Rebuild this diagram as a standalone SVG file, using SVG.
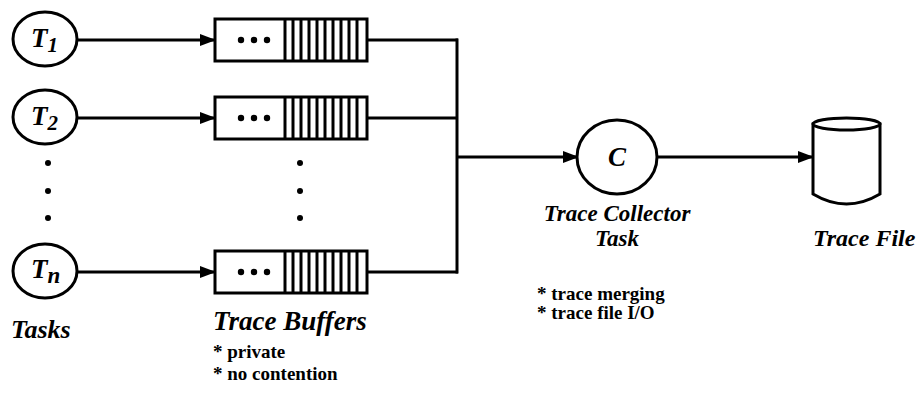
<svg xmlns="http://www.w3.org/2000/svg" width="923" height="409" viewBox="0 0 923 409">
<style>
.s{fill:#fff;stroke:#000;stroke-width:3}
.c{fill:none;stroke:#000;stroke-width:3}
.st{stroke:#000;stroke-width:3}
.lab{font-family:"Liberation Serif","Times New Roman","DejaVu Serif",serif;font-weight:bold;font-style:italic;font-size:26px;fill:#000}
.t{font-family:"Liberation Serif","Times New Roman","DejaVu Serif",serif;font-weight:bold;font-style:italic;font-size:27px;fill:#000}
.note{font-family:"Liberation Serif","Times New Roman","DejaVu Serif",serif;font-weight:bold;font-size:19px;fill:#000}
.dot{fill:#000}
</style>
<defs>
<marker id="ah" markerUnits="userSpaceOnUse" markerWidth="16" markerHeight="12" refX="15" refY="6" orient="auto">
<path d="M0,0 L16,6 L0,12 z" fill="#000"/>
</marker>
<g id="buf">
<rect class="s" x="0" y="-21" width="152" height="42"/>
<line class="st" x1="70" y1="-21" x2="70" y2="21"/>
<line class="st" x1="78" y1="-21" x2="78" y2="21"/>
<line class="st" x1="86" y1="-21" x2="86" y2="21"/>
<line class="st" x1="94" y1="-21" x2="94" y2="21"/>
<line class="st" x1="102" y1="-21" x2="102" y2="21"/>
<line class="st" x1="110" y1="-21" x2="110" y2="21"/>
<line class="st" x1="118" y1="-21" x2="118" y2="21"/>
<line class="st" x1="126" y1="-21" x2="126" y2="21"/>
<line class="st" x1="134" y1="-21" x2="134" y2="21"/>
<line class="st" x1="142" y1="-21" x2="142" y2="21"/>
<circle class="dot" cx="26" cy="0" r="3.2"/>
<circle class="dot" cx="39" cy="0" r="3.2"/>
<circle class="dot" cx="52" cy="0" r="3.2"/>
</g>
</defs>

<g id="connectors">
<line class="c" x1="77" y1="40" x2="215" y2="40" marker-end="url(#ah)"/>
<line class="c" x1="77" y1="118" x2="215" y2="118" marker-end="url(#ah)"/>
<line class="c" x1="77" y1="272" x2="215" y2="272" marker-end="url(#ah)"/>
<line class="c" x1="367" y1="40" x2="458" y2="40"/>
<line class="c" x1="367" y1="118" x2="458" y2="118"/>
<line class="c" x1="367" y1="272" x2="458" y2="272"/>
<line class="c" x1="457" y1="38.5" x2="457" y2="273.5"/>
<line class="c" x1="457" y1="157" x2="578" y2="157" marker-end="url(#ah)"/>
<line class="c" x1="657" y1="157" x2="813" y2="157" marker-end="url(#ah)"/>
</g>

<g id="task1">
<ellipse class="s" cx="45" cy="39" rx="32" ry="27"/>
<text class="t" x="31" y="47">T<tspan style="font-size:21px" dy="5">1</tspan></text>
</g>
<g id="task2">
<ellipse class="s" cx="45" cy="117" rx="32" ry="27"/>
<text class="t" x="31" y="125">T<tspan style="font-size:21px" dy="5">2</tspan></text>
</g>
<g id="taskdots">
<circle class="dot" cx="48" cy="163" r="3"/>
<circle class="dot" cx="48" cy="191" r="3"/>
<circle class="dot" cx="48" cy="218" r="3"/>
</g>
<g id="taskn">
<ellipse class="s" cx="45" cy="271" rx="32" ry="27"/>
<text class="t" x="31" y="278">T<tspan style="font-size:23px" dy="5">n</tspan></text>
</g>
<g id="tasks-label">
<text class="lab" x="11" y="338">Tasks</text>
</g>

<g id="buffer1"><use href="#buf" x="215" y="40"/></g>
<g id="buffer2"><use href="#buf" x="215" y="118"/></g>
<g id="bufdots">
<circle class="dot" cx="300" cy="163" r="3"/>
<circle class="dot" cx="300" cy="191" r="3"/>
<circle class="dot" cx="300" cy="218" r="3"/>
</g>
<g id="buffern"><use href="#buf" x="215" y="272"/></g>
<g id="buffers-label">
<text class="lab" x="213" y="330" style="font-size:27px">Trace Buffers</text>
<text class="note" x="213" y="358">* private</text>
<text class="note" x="213" y="380">* no contention</text>
</g>

<g id="collector">
<ellipse class="s" cx="617" cy="157" rx="40" ry="37"/>
<text class="t" x="617" y="166" text-anchor="middle">C</text>
<text class="lab" x="617" y="221" text-anchor="middle" style="font-size:23px">Trace Collector</text>
<text class="lab" x="617" y="246" text-anchor="middle" style="font-size:23px">Task</text>
<text class="note" x="537" y="300">* trace merging</text>
<text class="note" x="537" y="319">* trace file I/O</text>
</g>

<g id="tracefile">
<path class="s" d="M813,124 L813,194 Q846.5,214 880,194 L880,124 Z"/>
<ellipse class="s" cx="846.5" cy="124" rx="33.5" ry="6"/>
<text class="lab" x="813" y="246" style="font-size:24px">Trace File</text>
</g>
</svg>
